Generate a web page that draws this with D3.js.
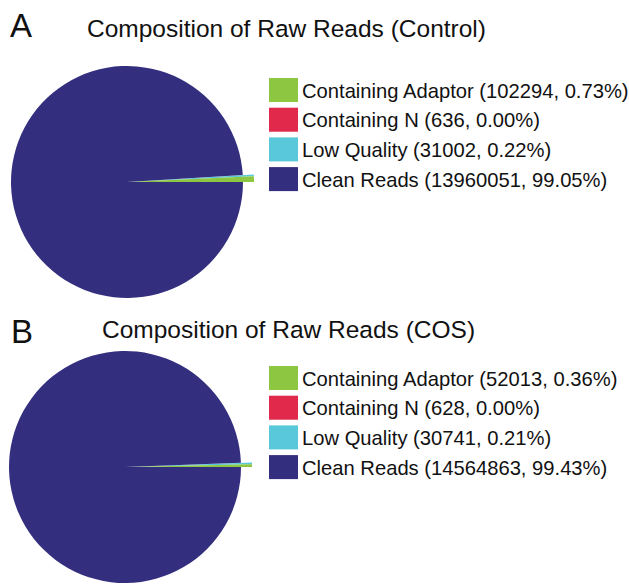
<!DOCTYPE html>
<html>
<head>
<meta charset="utf-8">
<script src="https://cdn.jsdelivr.net/npm/d3@7"></script>
<style>
  body { margin: 0; background: #fff; }
  text { font-family: "Liberation Sans", Arial, sans-serif; fill: #111; }
</style>
</head>
<body>
<svg id="chart" width="629" height="585"></svg>
<script>
// data
const categories = ['Containing Adaptor', 'Containing N', 'Low Quality', 'Clean Reads'];
const colors = ['#8dc641', '#e12a4b', '#5ac8db', '#332e7e'];
const controlCounts = [102294, 636, 31002, 13960051];
const cosCounts = [52013, 628, 30741, 14564863];
const panelLetters = ['A', 'B'];
const panelTitles = ['Composition of Raw Reads (Control)', 'Composition of Raw Reads (COS)'];

const svg = d3.select('#chart');

function drawPanel(letter, title, counts, layout) {
    const g = svg.append('g');
    const total = d3.sum(counts);

    g.append('text')
        .attr('x', layout.letterX).attr('y', layout.letterY)
        .style('font-size', '33px')
        .text(letter);

    g.append('text')
        .attr('x', layout.titleX).attr('y', layout.titleY)
        .style('font-size', '24.5px')
        .text(title);

    // order slices so the small ones sit just above 3 o'clock
    const rows = categories.map((c, i) => ({ name: c, value: counts[i], color: colors[i] }));
    const order = [2, 1, 0, 3].map(i => rows[i]);
    const small = (total - counts[3]) / total * 2 * Math.PI;
    const pie = d3.pie().sort(null).value(d => d.value)
        .startAngle(Math.PI / 2 - small)
        .endAngle(Math.PI / 2 - small + 2 * Math.PI);

    const arc = d3.arc().innerRadius(0);
    const pieG = g.append('g')
        .attr('transform', 'translate(' + layout.cx + ',' + layout.cy + ')');

    pieG.selectAll('path')
        .data(pie(order))
        .enter().append('path')
        .attr('fill', d => d.data.color)
        .attr('d', d => arc.outerRadius(d.data.name === 'Clean Reads' ? layout.r : layout.r + 11)(d));

    const legend = g.append('g')
        .attr('transform', 'translate(' + layout.legendX + ',' + layout.legendY + ')');

    const item = legend.selectAll('g')
        .data(rows)
        .enter().append('g')
        .attr('transform', (d, i) => 'translate(0,' + (i * 29.7) + ')');

    item.append('rect')
        .attr('width', 29).attr('height', 24)
        .attr('fill', d => d.color);

    item.append('text')
        .attr('x', 33).attr('y', 19.5)
        .style('font-size', '20.2px')
        .text(d => d.name + ' (' + d.value + ', ' + (d.value / total * 100).toFixed(2) + '%)');
}

drawPanel(panelLetters[0], panelTitles[0], controlCounts,
    { letterX: 10, letterY: 37, titleX: 87, titleY: 37, cx: 127, cy: 182, r: 116, legendX: 269, legendY: 78 });
drawPanel(panelLetters[1], panelTitles[1], cosCounts,
    { letterX: 11, letterY: 343, titleX: 102, titleY: 338, cx: 125, cy: 467, r: 116, legendX: 269, legendY: 366 });
</script>
</body>
</html>
